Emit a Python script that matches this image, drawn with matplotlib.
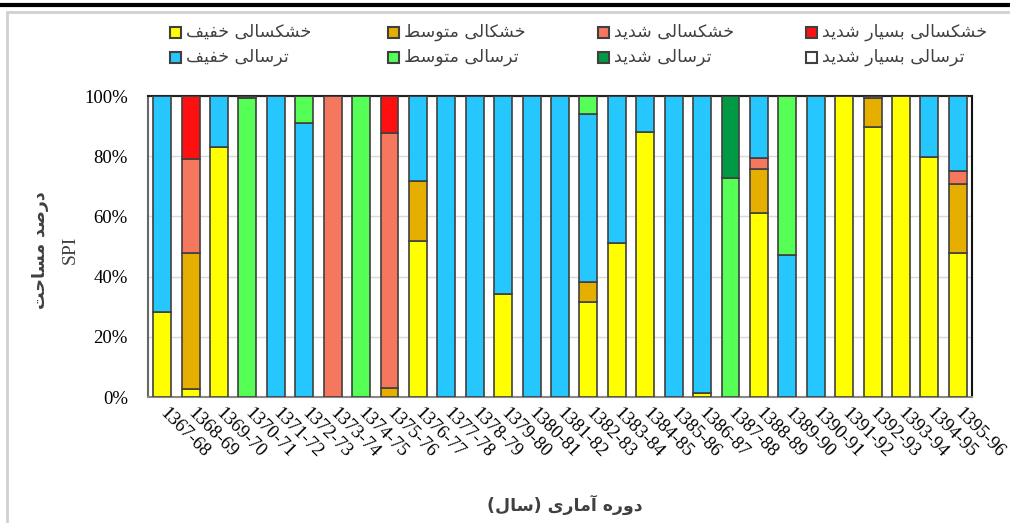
import matplotlib
matplotlib.use('Agg')
import matplotlib.pyplot as plt
from matplotlib.patches import Rectangle
from matplotlib.lines import Line2D
import numpy as np

periods = ['1367-68', '1368-69', '1369-70', '1370-71', '1371-72', '1372-73', '1373-74',
           '1374-75', '1375-76', '1376-77', '1377-78', '1378-79', '1379-80', '1380-81',
           '1381-82', '1382-83', '1383-84', '1384-85', '1385-86', '1386-87', '1387-88',
           '1388-89', '1389-90', '1390-91', '1391-92', '1392-93', '1393-94', '1394-95',
           '1395-96']

# percent of area in each SPI class (bottom to top of each bar)
drought_light = [28.3, 2.7, 83.2, 0, 0, 0, 0, 0, 0, 51.9, 0, 0, 34.2, 0, 0, 31.7, 51.3, 88.0,
                 0, 1.2, 0, 61.2, 0, 0, 100, 89.6, 100, 79.8, 47.9]
drought_moderate = [0, 45.2, 0, 0, 0, 0, 0, 0, 2.9, 20.0, 0, 0, 0, 0, 0, 6.6, 0, 0,
                    0, 0, 0, 14.5, 0, 0, 0, 9.9, 0, 0, 23.0]
drought_severe = [0, 31.1, 0, 0, 0, 0, 100, 0, 84.9, 0, 0, 0, 0, 0, 0, 0, 0, 0,
                  0, 0, 0, 3.6, 0, 0, 0, 0.5, 0, 0, 4.2]
drought_extreme = [0, 21.0, 0, 0, 0, 0, 0, 0, 12.2, 0, 0, 0, 0, 0, 0, 0, 0, 0,
                   0, 0, 0, 0, 0, 0, 0, 0, 0, 0, 0]
wet_light = [71.7, 0, 16.8, 0, 100, 91.1, 0, 0, 0, 28.1, 100, 100, 65.8, 100, 100, 55.7, 48.7, 12.0,
             100, 98.8, 0, 20.7, 47.2, 100, 0, 0, 0, 20.2, 24.9]
wet_moderate = [0, 0, 0, 99.3, 0, 8.9, 0, 100, 0, 0, 0, 0, 0, 0, 0, 6.0, 0, 0,
                0, 0, 72.7, 0, 52.8, 0, 0, 0, 0, 0, 0]
wet_severe = [0, 0, 0, 0.7, 0, 0, 0, 0, 0, 0, 0, 0, 0, 0, 0, 0, 0, 0,
              0, 0, 27.3, 0, 0, 0, 0, 0, 0, 0, 0]
wet_extreme = [0] * 29

labels = ['خشکسالی خفیف', 'خشکالی متوسط', 'خشکسالی شدید', 'خشکسالی بسیار شدید',
          'ترسالی خفیف', 'ترسالی متوسط', 'ترسالی شدید', 'ترسالی بسیار شدید']
colors = ['#FFFF00', '#E6AF00', '#F4775E', '#FF1010',
          '#26C6FF', '#55FF55', '#009944', '#FFFFFF']
series = [drought_light, drought_moderate, drought_severe, drought_extreme,
          wet_light, wet_moderate, wet_severe, wet_extreme]

# matplotlib has no arabic shaping: pick presentation forms by hand
FORMS = {
    '\u0627': ('\uFE8D', '\uFE8E', None, None),
    '\u0622': ('\uFE81', '\uFE82', None, None),
    '\u0628': ('\uFE8F', '\uFE90', '\uFE91', '\uFE92'),
    '\u062A': ('\uFE95', '\uFE96', '\uFE97', '\uFE98'),
    '\u062D': ('\uFEA1', '\uFEA2', '\uFEA3', '\uFEA4'),
    '\u062E': ('\uFEA5', '\uFEA6', '\uFEA7', '\uFEA8'),
    '\u062F': ('\uFEA9', '\uFEAA', None, None),
    '\u0631': ('\uFEAD', '\uFEAE', None, None),
    '\u0633': ('\uFEB1', '\uFEB2', '\uFEB3', '\uFEB4'),
    '\u0634': ('\uFEB5', '\uFEB6', '\uFEB7', '\uFEB8'),
    '\u0635': ('\uFEB9', '\uFEBA', '\uFEBB', '\uFEBC'),
    '\u0637': ('\uFEC1', '\uFEC2', '\uFEC3', '\uFEC4'),
    '\u0641': ('\uFED1', '\uFED2', '\uFED3', '\uFED4'),
    '\u0644': ('\uFEDD', '\uFEDE', '\uFEDF', '\uFEE0'),
    '\u0645': ('\uFEE1', '\uFEE2', '\uFEE3', '\uFEE4'),
    '\u0647': ('\uFEE9', '\uFEEA', '\uFEEB', '\uFEEC'),
    '\u0648': ('\uFEED', '\uFEEE', None, None),
    '\u06A9': ('\uFB8E', '\uFB8F', '\uFB90', '\uFB91'),
    '\u06CC': ('\uFBFC', '\uFBFD', '\uFBFE', '\uFBFF'),
}


def fa(s):
    out = []
    for i, c in enumerate(s):
        if c not in FORMS:
            out.append(c)
            continue
        prev = s[i - 1] if i > 0 else ''
        nxt = s[i + 1] if i + 1 < len(s) else ''
        jp = prev in FORMS and FORMS[prev][2] is not None
        jn = FORMS[c][2] is not None and nxt in FORMS
        iso, fin, ini, med = FORMS[c]
        if jp and jn:
            out.append(med)
        elif jp:
            out.append(fin)
        elif jn:
            out.append(ini)
        else:
            out.append(iso)
    return ''.join(out)[::-1].translate(str.maketrans('()', ')('))


fig = plt.figure(figsize=(10.1, 5.23), dpi=100)
ax = fig.add_axes([0.1465, 0.2409, 0.8159, 0.5755])

x = np.arange(len(periods))
bottom = np.zeros(len(periods))
for vals, c in zip(series, colors):
    ax.bar(x, vals, 0.63, bottom=bottom, color=c, edgecolor='#404040', linewidth=1.2, zorder=3)
    bottom += np.array(vals)

ax.set_xlim(-0.5, len(periods) - 0.5)
ax.set_ylim(0, 100)
ax.set_yticks([0, 20, 40, 60, 80, 100])
ax.set_yticklabels(['0%', '20%', '40%', '60%', '80%', '100%'], family='Liberation Serif', fontsize=13.5)
ax.yaxis.grid(True, color='#d9d9d9', linewidth=1, zorder=0)
ax.tick_params(axis='both', length=0)
ax.tick_params(axis='y', pad=14.5)
ax.set_xticks(x)
ax.set_xticklabels(periods, rotation=-45, ha='left', va='center', rotation_mode='anchor',
                   family='Liberation Serif', fontsize=13.5)
ax.tick_params(axis='x', pad=10)
ax.spines['left'].set_color('#666666')
ax.spines['bottom'].set_color('#888888')
ax.spines['top'].set_color('#222222')
ax.spines['right'].set_color('#111111')
for s in ax.spines.values():
    s.set_linewidth(1.5)

W, H = 1010, 523
fig.text(40 / W, 1 - 250 / H, fa('درصد مساحت'), rotation=90, ha='center', va='center',
         family='DejaVu Sans', fontweight='bold', fontsize=12.5, color='#404040')
fig.text(70 / W, 1 - 250 / H, 'SPI', rotation=90, ha='center', va='center',
         family='Liberation Serif', fontsize=14, color='#404040')
fig.text(565 / W, 1 - 505 / H, fa('دوره آماری (سال)'), ha='center', va='center',
         family='DejaVu Sans', fontweight='bold', fontsize=12.5, color='#404040')

# legend, two rows of four, drawn by hand to match the column placement
col_x = [170, 388, 598, 806]
row_y = [32, 57]
order = [(0, 0), (1, 0), (2, 0), (3, 0), (0, 1), (1, 1), (2, 1), (3, 1)]
for (ci, ri), lab, c in zip(order, labels, colors):
    fig.patches.append(Rectangle((col_x[ci] / W, 1 - (row_y[ri] + 6) / H), 11 / W, 11 / H,
                                 transform=fig.transFigure, facecolor=c, edgecolor='#404040',
                                 linewidth=1.5))
    fig.text((col_x[ci] + 16) / W, 1 - row_y[ri] / H, fa(lab), ha='left', va='center',
             family='DejaVu Sans', fontsize=12.5, color='#404040')

# page frame around the chart
fig.lines.append(Line2D([0, 1], [1 - 5 / H, 1 - 5 / H], transform=fig.transFigure,
                        color='black', linewidth=3))
fig.patches.append(Rectangle((7 / W, -0.05), 1.1, 1 - 12 / H + 0.05, transform=fig.transFigure,
                             facecolor='none', edgecolor='#d0d0d0', linewidth=2))

fig.savefig('out.png', dpi=100)
